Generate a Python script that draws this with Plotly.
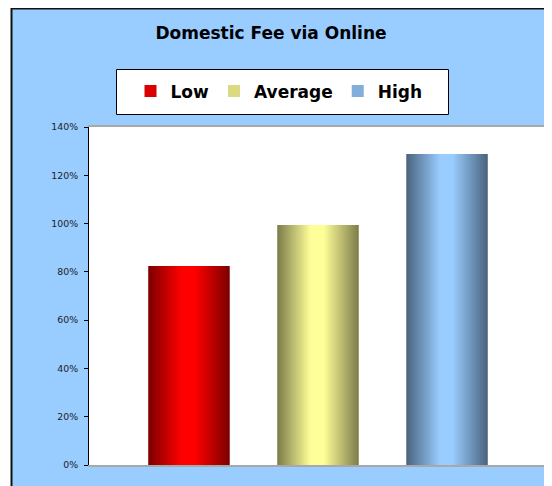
import plotly.graph_objects as go

# ---- data ----
title_text = "Domestic Fee via Online"
series = ["Low", "Average", "High"]
values = [0.824, 0.994, 1.288]
base_colors = ["#FF0000", "#FFFF99", "#99CCFF"]
dark_colors = ["#800000", "#80804C", "#4C6680"]
category = [""]
y_tickvals = [0, 0.2, 0.4, 0.6, 0.8, 1.0, 1.2, 1.4]
y_ticktext = ["0%", "20%", "40%", "60%", "80%", "100%", "120%", "140%"]

# ---- layout geometry (figure pixels; page body adds an 8px offset) ----
W, H = 544, 478
ML, MR, MT, MB = 81, 5, 119, 21
PW = W - ML - MR
PH = H - MT - MB


def px_x(p):
    return (p - ML) / PW


def px_y(p):
    return (H - MB - p) / PH


def hex2rgb(h):
    h = h.lstrip("#")
    return tuple(int(h[i:i + 2], 16) for i in (0, 2, 4))


def mix(c1, c2, t):
    a, b = hex2rgb(c1), hex2rgb(c2)
    return "rgb(%d,%d,%d)" % tuple(round(a[j] + (b[j] - a[j]) * t) for j in range(3))


fig = go.Figure()

slot = 0.2817     # distance between bar centres (category units)
bw = 0.178        # bar width (category units)
N = 18            # layers used to imitate the cylinder shading
for i, name in enumerate(series):
    c = (i - 1) * slot
    left0 = c - bw / 2
    for k in range(N):
        t = k / (N - 1)
        lf = t * 0.40
        rf = 1 - t * 0.42
        fig.add_trace(go.Bar(
            x=category, y=[values[i]],
            offset=left0 + lf * bw, width=(rf - lf) * bw,
            marker=dict(color=mix(dark_colors[i], base_colors[i], t), line=dict(width=0)),
            name=name, legendgroup=name,
            showlegend=(k == int(N * 0.7)),
            hoverinfo="skip",
        ))

fig.update_layout(
    width=W, height=H,
    margin=dict(l=ML, r=MR, t=MT, b=MB),
    paper_bgcolor="white",
    plot_bgcolor="white",
    barmode="overlay",
    font=dict(family="DejaVu Sans", color="#000"),
    title=dict(text=title_text, xref="container", x=263 / W, xanchor="center",
               yref="container", y=1 - 25 / H, yanchor="middle",
               font=dict(size=17, weight="bold", color="#000")),
    legend=dict(orientation="h", xref="paper", yref="paper",
                x=px_x(122.5), xanchor="left",
                y=px_y(83.5), yanchor="middle",
                bgcolor="rgba(0,0,0,0)", borderwidth=0,
                font=dict(size=17, weight="bold", color="#000"),
                itemclick=False, itemdoubleclick=False),
    xaxis=dict(range=[-0.5, 0.5], showticklabels=False, ticks="",
               showgrid=False, zeroline=False,
               showline=True, linecolor="#A8A8A8", linewidth=2, mirror=True),
    yaxis=dict(range=[0, 1.4], tickvals=y_tickvals, ticktext=y_ticktext,
               ticks="outside", ticklen=4, tickcolor="#000", tickwidth=1,
               ticklabelstandoff=4,
               tickfont=dict(size=9.4, color="#222"),
               showgrid=False, zeroline=False,
               showline=True, linecolor="#000", linewidth=1),
    shapes=[
        dict(type="rect", xref="paper", yref="paper",
             x0=px_x(3.5), x1=1.5, y0=-0.5, y1=px_y(0.5),
             fillcolor="#99CCFF", line=dict(color="#111", width=2), layer="below"),
        dict(type="rect", xref="paper", yref="paper",
             x0=0, x1=1, y0=0, y1=1,
             fillcolor="white", line=dict(width=0), layer="below"),
        dict(type="rect", xref="paper", yref="paper",
             x0=px_x(108.5), x1=px_x(440.5), y0=px_y(106.5), y1=px_y(61.5),
             fillcolor="white", line=dict(color="#000", width=1), layer="below"),
        dict(type="line", xref="paper", yref="paper",
             x0=1 + 1.5 / PW, x1=1 + 1.5 / PW, y0=-1 / PH, y1=1,
             line=dict(color="#999", width=3)),
    ],
)

fig.write_html("out.html")
